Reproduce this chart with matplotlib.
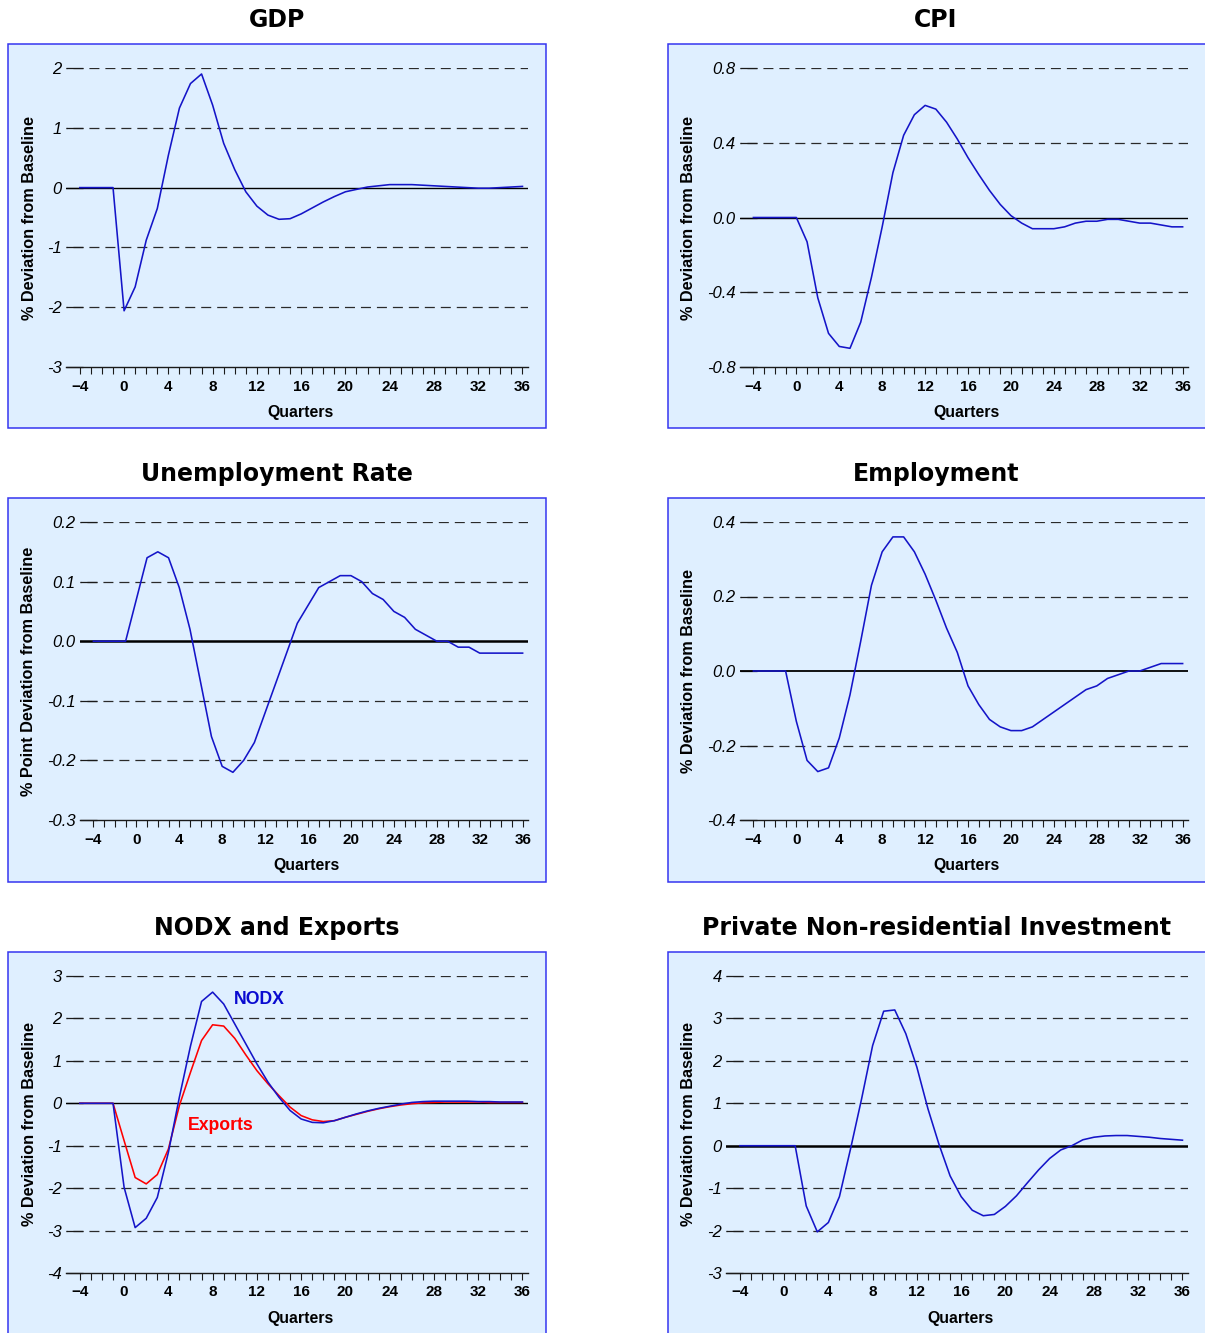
import numpy as np
import matplotlib
matplotlib.use("Agg")
import matplotlib.pyplot as plt
from matplotlib.patches import Rectangle

# --- Data (quarters relative to shock) ---
quarters = np.arange(-4, 37)

gdp = [0, 0, 0, 0, -2.06, -1.66, -0.88, -0.35, 0.54, 1.33, 1.74, 1.90, 1.38, 0.74,
       0.30, -0.07, -0.31, -0.46, -0.53, -0.52, -0.44, -0.34, -0.24, -0.15, -0.07,
       -0.03, 0.01, 0.03, 0.05, 0.05, 0.05, 0.04, 0.03, 0.02, 0.01, 0.0, -0.01,
       -0.01, 0.0, 0.01, 0.02]

cpi = [0, 0, 0, 0, 0, -0.13, -0.43, -0.62, -0.69, -0.70, -0.56, -0.32, -0.05,
       0.24, 0.44, 0.55, 0.60, 0.58, 0.51, 0.42, 0.32, 0.23, 0.145, 0.07, 0.01,
       -0.03, -0.06, -0.06, -0.06, -0.05, -0.03, -0.02, -0.02, -0.01, -0.01,
       -0.02, -0.03, -0.03, -0.04, -0.05, -0.05]

unemp = [0, 0, 0, 0, 0.07, 0.14, 0.15, 0.14, 0.09, 0.02, -0.07, -0.16, -0.21,
         -0.22, -0.20, -0.17, -0.12, -0.07, -0.02, 0.03, 0.06, 0.09, 0.10, 0.11,
         0.11, 0.10, 0.08, 0.07, 0.05, 0.04, 0.02, 0.01, 0.0, 0.0, -0.01, -0.01,
         -0.02, -0.02, -0.02, -0.02, -0.02]

employment = [0, 0, 0, 0, -0.135, -0.24, -0.27, -0.26, -0.18, -0.064, 0.08, 0.23,
              0.32, 0.36, 0.36, 0.32, 0.26, 0.19, 0.115, 0.05, -0.04, -0.09, -0.13,
              -0.15, -0.16, -0.16, -0.15, -0.13, -0.11, -0.09, -0.07, -0.05, -0.04,
              -0.02, -0.01, 0.0, 0.0, 0.01, 0.02, 0.02, 0.02]

nodx = [0, 0, 0, 0, -1.98, -2.93, -2.71, -2.22, -1.16, 0.15, 1.35, 2.40, 2.62,
        2.34, 1.87, 1.40, 0.93, 0.50, 0.14, -0.17, -0.37, -0.45, -0.46, -0.41,
        -0.33, -0.25, -0.18, -0.12, -0.07, -0.02, 0.02, 0.04, 0.05, 0.05, 0.05,
        0.05, 0.04, 0.04, 0.03, 0.03, 0.03]

exports = [0, 0, 0, 0, -0.88, -1.75, -1.90, -1.68, -1.08, -0.05, 0.73, 1.48, 1.85,
           1.82, 1.53, 1.14, 0.77, 0.46, 0.18, -0.09, -0.29, -0.39, -0.43, -0.41,
           -0.33, -0.26, -0.19, -0.13, -0.08, -0.04, -0.01, 0.01, 0.02, 0.03, 0.03,
           0.03, 0.03, 0.02, 0.02, 0.02, 0.02]

investment = [0, 0, 0, 0, 0, 0, -1.42, -2.03, -1.81, -1.20, -0.08, 1.10, 2.36,
              3.17, 3.20, 2.64, 1.85, 0.87, 0.03, -0.71, -1.20, -1.52, -1.65, -1.62,
              -1.43, -1.18, -0.87, -0.57, -0.30, -0.10, 0.0, 0.14, 0.20, 0.23, 0.24,
              0.24, 0.22, 0.20, 0.17, 0.15, 0.13]

gdp_ticks = [-3, -2, -1, 0, 1, 2]
cpi_ticks = [-0.8, -0.4, 0.0, 0.4, 0.8]
unemp_ticks = [-0.3, -0.2, -0.1, 0.0, 0.1, 0.2]
employment_ticks = [-0.4, -0.2, 0.0, 0.2, 0.4]
nodx_ticks = [-4, -3, -2, -1, 0, 1, 2, 3]
investment_ticks = [-3, -2, -1, 0, 1, 2, 3, 4]

# --- Layout (pixels) ---
W, H = 1205, 1333
BOX_FILL = "#dfefff"
BOX_EDGE = "#3535f0"
LINE_BLUE = "#1414c8"
GRID_COL = "#2a2a2a"

plt.rcParams["lines.scale_dashes"] = False
plt.rcParams["font.family"] = ["Liberation Sans", "DejaVu Sans"]

fig = plt.figure(figsize=(W / 100, H / 100), dpi=100)
fig.patch.set_facecolor("white")


def frac(l, t, r, b):
    return [l / W, 1 - b / H, (r - l) / W, (b - t) / H]


def panel(box, axbox, title, title_x, ylabel, ylabel_x, ticks, fmt, zero_lw, series):
    bl, bt, br, bb = box
    fig.patches.append(Rectangle((bl / W, 1 - bb / H), (br - bl) / W, (bb - bt) / H,
                                 transform=fig.transFigure, facecolor=BOX_FILL,
                                 edgecolor=BOX_EDGE, linewidth=1.1, zorder=0))
    fig.text(title_x / W, 1 - (bt - 24) / H, title, ha="center", va="center",
             fontsize=17, fontweight="bold", family="DejaVu Sans")

    ax = fig.add_axes(frac(*axbox))
    ax.set_zorder(2)
    ax.set_facecolor("none")
    for s in ["top", "right", "left"]:
        ax.spines[s].set_visible(False)
    ax.spines["bottom"].set_color("#1a1a1a")
    ax.spines["bottom"].set_linewidth(1.0)

    ax.set_xlim(-5.25, 36.5)
    ax.set_ylim(ticks[0], ticks[-1])
    ax.set_xticks(np.arange(-4, 37, 4))
    ax.set_xticks(np.arange(-4, 37, 1), minor=True)
    ax.tick_params(axis="x", which="both", direction="out", length=5, width=0.8,
                   color="#1a1a1a", pad=4)
    ax.tick_params(axis="x", which="major", labelsize=11)
    for lab in ax.get_xticklabels():
        lab.set_fontweight("bold")

    ax.set_yticks(ticks)
    ax.set_yticklabels([fmt.format(t) for t in ticks], fontstyle="italic", fontsize=12)
    ax.tick_params(axis="y", direction="in", length=12, width=0.9, color="#1a1a1a", pad=3)

    for t in ticks[1:]:
        if abs(t) < 1e-9:
            continue
        ax.axhline(t, color=GRID_COL, linewidth=0.9, linestyle=(6.5, (7.2, 4.3)), zorder=1)
    ax.axhline(0, color="black", linewidth=zero_lw, zorder=2)

    for y, col in series:
        ax.plot(quarters, y, color=col, linewidth=1.15, zorder=3)

    ax.set_xlabel("Quarters", fontsize=11.4, fontweight="bold")
    ax.xaxis.set_label_coords(0.5 + 3 / (axbox[2] - axbox[0]), -38 / (axbox[3] - axbox[1]))
    ax.set_ylabel(ylabel, fontsize=11.7, fontweight="bold")
    ax.yaxis.set_label_coords((ylabel_x + 7 - axbox[0]) / (axbox[2] - axbox[0]), 0.5)
    return ax


panel((8, 44, 546, 428), (66, 68, 528, 367), "GDP", 277,
      "% Deviation from Baseline", 30, gdp_ticks, "{:.0f}", 1.0,
      [(gdp, LINE_BLUE)])
panel((668, 44, 1212, 428), (740, 68, 1188, 367), "CPI", 936,
      "% Deviation from Baseline", 689, cpi_ticks, "{:.1f}", 1.0,
      [(cpi, LINE_BLUE)])
panel((8, 498, 546, 882), (80, 522, 528, 820), "Unemployment Rate", 277,
      "% Point Deviation from Baseline", 29, unemp_ticks, "{:.1f}", 1.8,
      [(unemp, LINE_BLUE)])
panel((668, 498, 1212, 882), (740, 522, 1188, 820), "Employment", 936,
      "% Deviation from Baseline", 689, employment_ticks, "{:.1f}", 1.3,
      [(employment, LINE_BLUE)])
ax5 = panel((8, 952, 546, 1345), (66, 976, 528, 1273), "NODX and Exports", 277,
            "% Deviation from Baseline", 30, nodx_ticks, "{:.0f}", 1.0,
            [(exports, "#ff0000"), (nodx, LINE_BLUE)])
ax5.text(12.2, 2.45, "NODX", color="#0a0ad0", fontsize=12.7, fontweight="bold",
         ha="center", va="center")
ax5.text(8.75, -0.52, "Exports", color="#ff0000", fontsize=12.7, fontweight="bold",
         ha="center", va="center")
panel((668, 952, 1212, 1345), (726, 976, 1188, 1273), "Private Non-residential Investment", 936,
      "% Deviation from Baseline", 689, investment_ticks, "{:.0f}", 1.8,
      [(investment, LINE_BLUE)])

fig.savefig("out.png", dpi=100)
